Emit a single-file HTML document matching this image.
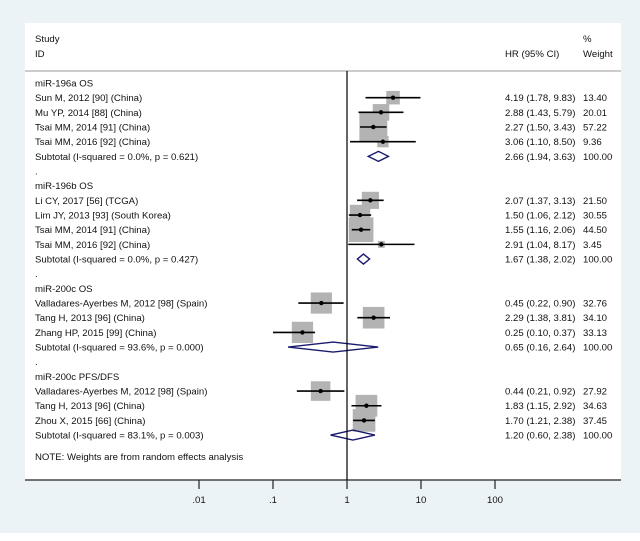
<!DOCTYPE html>
<html><head><meta charset="utf-8"><style>
body{margin:0;background:#ecf3f7;}
svg{display:block;font-family:"Liberation Sans",Arial,sans-serif;}
text{font-size:9.6px;fill:#111;}
</style></head><body>
<svg id="c" width="640" height="541">
<rect x="0" y="0" width="640" height="541" fill="#ecf3f7"/>
<rect x="25" y="23" width="596" height="457" fill="#fff"/>
<rect x="0" y="533" width="640" height="8" fill="#fff"/>
<text x="35" y="42">Study</text>
<text x="35" y="57">ID</text>
<text x="505" y="57">HR (95% CI)</text>
<text x="583" y="42">%</text>
<text x="583" y="57">Weight</text>
<line x1="25" y1="71" x2="621" y2="71" stroke="#999" stroke-width="1"/>
<line x1="25" y1="480" x2="621" y2="480" stroke="#222" stroke-width="1.3"/>
<g id="g"></g>
</svg>
<script>
const labels=["miR-196a OS","Sun M, 2012 [90] (China)","Mu YP, 2014 [88] (China)","Tsai MM, 2014 [91] (China)","Tsai MM, 2016 [92] (China)","Subtotal  (I-squared = 0.0%, p = 0.621)",".","miR-196b OS","Li CY, 2017 [56] (TCGA)","Lim JY, 2013 [93] (South Korea)","Tsai MM, 2014 [91] (China)","Tsai MM, 2016 [92] (China)","Subtotal  (I-squared = 0.0%, p = 0.427)",".","miR-200c OS","Valladares-Ayerbes M, 2012 [98] (Spain)","Tang H, 2013 [96] (China)","Zhang HP, 2015 [99] (China)","Subtotal  (I-squared = 93.6%, p = 0.000)",".","miR-200c PFS/DFS","Valladares-Ayerbes M, 2012 [98] (Spain)","Tang H, 2013 [96] (China)","Zhou X, 2015 [66] (China)","Subtotal  (I-squared = 83.1%, p = 0.003)"];
const types=["h","s","s","s","s","t","b","h","s","s","s","s","t","b","h","s","s","s","t","b","h","s","s","s","t"];
const hr=[null,4.19,2.88,2.27,3.06,2.66,null,null,2.07,1.50,1.55,2.91,1.67,null,null,0.45,2.29,0.25,0.65,null,null,0.44,1.83,1.70,1.20];
const lo=[null,1.78,1.43,1.50,1.10,1.94,null,null,1.37,1.06,1.16,1.04,1.38,null,null,0.22,1.38,0.10,0.16,null,null,0.21,1.15,1.21,0.60];
const hi=[null,9.83,5.79,3.43,8.50,3.63,null,null,3.13,2.12,2.06,8.17,2.02,null,null,0.90,3.81,0.37,2.64,null,null,0.92,2.92,2.38,2.38];
const wt=[null,"13.40","20.01","57.22","9.36","100.00",null,null,"21.50","30.55","44.50","3.45","100.00",null,null,"32.76","34.10","33.13","100.00",null,null,"27.92","34.63","37.45","100.00"];
const ticks=[0.01,0.1,1,10,100];
const tickLabels=[".01",".1","1","10","100"];
const NS="http://www.w3.org/2000/svg";
const g=document.getElementById('g');
const X=v=>347+74*Math.log10(v);
const Y=i=>83+14.67*i;
function mk(tag,at){const e=document.createElementNS(NS,tag);for(const k in at)e.setAttribute(k,at[k]);g.appendChild(e);return e;}
const f=v=>v.toFixed(2);
labels.forEach((l,i)=>{
  const y=Y(i);
  const t=mk('text',{x:35,y:y+3.5});t.textContent=l;
  
  
  if(types[i]==='s'){
    const s=3.7*Math.sqrt(parseFloat(wt[i]));
    const sq=mk('rect',{x:X(hr[i])-s/2,y:y-s/2,width:s,height:s,fill:'#b3b3b3'});
    
    
  }
});
labels.forEach((l,i)=>{
  const y=Y(i);
  if(types[i]==='s'){
    const ln=mk('line',{x1:X(lo[i]),x2:X(hi[i]),y1:y,y2:y,stroke:'#000','stroke-width':1.6});
    
    
    const d=mk('circle',{cx:X(hr[i]),cy:y,r:2.2,fill:'#000'});
    
    
  }
  if(types[i]==='t'){
    const p=mk('polygon',{points:`${X(lo[i])},${y} ${X(hr[i])},${y-5} ${X(hi[i])},${y} ${X(hr[i])},${y+5}`,fill:'none',stroke:'#1a1a6e','stroke-width':1.4});
    
    
  }
  if(types[i]==='s'||types[i]==='t'){
    const a=mk('text',{x:505,y:y+3.5});a.textContent=`${f(hr[i])} (${f(lo[i])}, ${f(hi[i])})`;
    
    
    const b=mk('text',{x:583,y:y+3.5});b.textContent=wt[i];
    
    
  }
});
const nl=mk('line',{x1:347,x2:347,y1:71,y2:480,stroke:'#000','stroke-width':1.2});


const note=mk('text',{x:35,y:460});note.textContent="NOTE: Weights are from random effects analysis";


ticks.forEach((v,i)=>{
  const tk=mk('line',{x1:X(v),x2:X(v),y1:480,y2:489,stroke:'#222','stroke-width':1.2});
  
  
  const tl=mk('text',{x:X(v),y:503,'text-anchor':'middle'});tl.textContent=tickLabels[i];
  
  
});
</script>
</body></html>
